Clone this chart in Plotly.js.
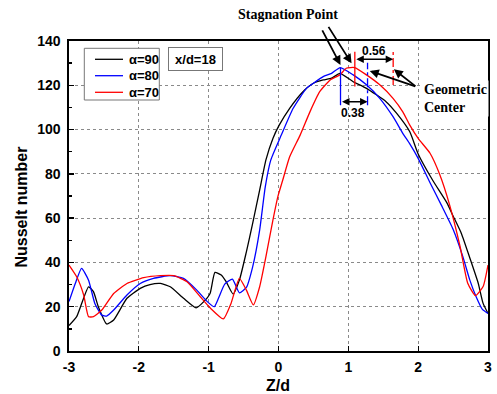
<!DOCTYPE html>
<html>
<head>
<meta charset="utf-8">
<script src="https://cdn.plot.ly/plotly-3.0.1.min.js"></script>
<style>html,body{margin:0;padding:0;background:#fff;}#chart{width:497px;height:394px;}</style>
</head>
<body>
<div id="chart"></div>
<script>
// ---- data ----
const seriesNames = ["α=90", "α=80", "α=70"];
const seriesColors = ["#000000", "#0000ff", "#ff0000"];

const z90 = [-3, -2.89, -2.72, -2.65, -2.58, -2.46, -2.36, -2.17, -1.98, -1.84, -1.69, -1.55, -1.36, -1.18, -1.07, -0.98, -0.91, -0.82, -0.75, -0.65, -0.56, -0.46, -0.37, -0.27, -0.18, -0.08, 0.01, 0.16, 0.35, 0.50, 0.64, 0.76, 0.88, 1.07, 1.26, 1.54, 1.69, 1.88, 2.0, 2.21, 2.41, 2.5, 2.62, 2.74, 2.86, 2.93, 3.0];
const nu90 = [11.5, 15.5, 29, 26.8, 20, 12.2, 14, 23.8, 28.3, 30, 30.5, 29, 23.8, 19.5, 22.3, 26, 35.5, 34.3, 31.3, 25.7, 32, 44.8, 57.6, 72.7, 86.3, 96, 102, 109.6, 117.1, 120.9, 122.4, 123.2, 125.4, 121.6, 118.6, 112.6, 107.4, 99, 89, 77, 67, 61, 53, 42, 30.6, 21.5, 17];

const z80 = [-3, -2.91, -2.82, -2.72, -2.63, -2.53, -2.46, -2.36, -2.17, -1.98, -1.79, -1.55, -1.36, -1.17, -1.02, -0.92, -0.86, -0.77, -0.66, -0.56, -0.46, -0.37, -0.27, -0.19, -0.11, 0.04, 0.21, 0.40, 0.50, 0.64, 0.76, 0.885, 1.07, 1.26, 1.45, 1.64, 1.78, 1.88, 2.0, 2.17, 2.33, 2.5, 2.64, 2.74, 2.83, 2.92, 3.0];
const nu80 = [22.3, 30.5, 37.3, 32, 21.5, 16.2, 15.8, 18.5, 25.3, 30.5, 32.8, 34, 32.8, 27.5, 22.3, 20, 23.8, 30.2, 32.5, 26.3, 28.7, 38, 54.6, 74, 86.3, 97.5, 109.6, 118.6, 120.9, 123.9, 125.4, 128, 124.7, 120.2, 114.1, 105.8, 98.3, 93.5, 87, 76, 66, 55, 42.6, 32, 24.5, 18.8, 17];

const z70 = [-3, -2.89, -2.79, -2.72, -2.65, -2.53, -2.36, -2.17, -1.93, -1.69, -1.50, -1.31, -1.12, -0.98, -0.79, -0.68, -0.56, -0.46, -0.36, -0.27, -0.18, -0.08, -0.01, 0.06, 0.16, 0.31, 0.45, 0.59, 0.74, 0.88, 0.97, 1.09, 1.26, 1.45, 1.64, 1.78, 1.88, 2.0, 2.17, 2.31, 2.45, 2.6, 2.71, 2.82, 2.93, 3.0];
const nu70 = [38.8, 33.5, 25.3, 15.5, 15.5, 18.5, 26, 30.5, 33.1, 34, 34, 31.3, 24.5, 19.5, 14.5, 21.5, 32.8, 27.5, 20.8, 29, 42.6, 59.1, 69.6, 77.1, 87.7, 97.5, 108, 117.1, 122.4, 124.7, 127.7, 128, 124.7, 120.2, 114.1, 108, 102, 96, 89.3, 79.6, 66, 47.2, 30.6, 25, 29.1, 38.8];

const xTicks = [-3, -2, -1, 0, 1, 2, 3];
const yTicks = [0, 20, 40, 60, 80, 100, 120, 140];

// stagnation points and geometric centres (Z/d)
const stagnation80 = 0.888, stagnation70 = 1.093;
const geometric80 = 1.275, geometric70 = 1.642;
const shift80Label = "0.38", shift70Label = "0.56";
const caseLabel = "x/d=18";

// ---- geometry helpers (pixel -> paper) ----
const PL = 69, PT = 41, PW = 419, PH = 310;
const px = v => (v - PL) / PW;
const py = v => 1 - (v - PT) / PH;

// ---- traces ----
const zs = [z90, z80, z70], nus = [nu90, nu80, nu70];
const traces = zs.map((z, i) => ({
  x: z, y: nus[i], type: "scatter", mode: "lines", name: seriesNames[i], showlegend: false,
  line: {color: seriesColors[i], width: 1.3, shape: "spline", smoothing: 0.5}
}));

const bold = (s, c, f) => ({family: f || "Liberation Sans, Arial, sans-serif", size: s, color: c || "#000", weight: "bold"});
const serif = "Liberation Serif, Times New Roman, serif";

const shapes = [
  // stagnation point markers
  {type: "line", xref: "x", yref: "y", x0: stagnation80, x1: stagnation80, y0: 111, y1: 128, line: {color: "#0000ff", width: 1.3}},
  {type: "line", xref: "x", yref: "y", x0: stagnation70, x1: stagnation70, y0: 119.4, y1: 135.2, line: {color: "#ff0000", width: 1.3}},
  // geometric centre markers
  {type: "line", xref: "x", yref: "y", x0: geometric80, x1: geometric80, y0: 111, y1: 130.2, line: {color: "#0000ff", width: 1.3, dash: "dashdot"}},
  {type: "line", xref: "x", yref: "y", x0: geometric70, x1: geometric70, y0: 120.1, y1: 135.2, line: {color: "#ff0000", width: 1.3, dash: "dashdot"}},
  // legend box
  {type: "rect", xref: "paper", yref: "paper", x0: px(84.3), x1: px(159.3), y0: py(100), y1: py(48.3), line: {color: "#777", width: 1}, fillcolor: "#fff", layer: "above"}
];

const legendY = [59.3, 75.7, 92.3];
seriesNames.forEach((n, i) => {
  shapes.push({type: "line", xref: "paper", yref: "paper", x0: px(95), x1: px(123), y0: py(legendY[i]), y1: py(legendY[i]),
               line: {color: seriesColors[i], width: 1.3}, layer: "above"});
});

const annotations = [
  // double arrows for the shifts
  {xref: "x", yref: "y", x: geometric80, y: 112.6, ax: stagnation80, ay: 112.6, axref: "x", ayref: "y", showarrow: true, arrowhead: 2, arrowside: "end+start", arrowsize: 1, arrowwidth: 1.5, arrowcolor: "#000", text: ""},
  {xref: "x", yref: "y", x: geometric70, y: 131.8, ax: stagnation70, ay: 131.8, axref: "x", ayref: "y", showarrow: true, arrowhead: 2, arrowside: "end+start", arrowsize: 1, arrowwidth: 1.5, arrowcolor: "#000", text: ""},
  {xref: "x", yref: "y", x: (stagnation80 + geometric80) / 2 - 0.02, y: 107.5, text: shift80Label, showarrow: false, font: bold(12)},
  {xref: "x", yref: "y", x: (stagnation70 + geometric70) / 2 - 0.005, y: 135.6, text: shift70Label, showarrow: false, font: bold(12)},
  // stagnation point arrows
  {xref: "x", yref: "y", x: stagnation80, y: 129.2, ax: -19, ay: -36, showarrow: true, arrowhead: 2, arrowsize: 1, arrowwidth: 1.8, arrowcolor: "#000", text: ""},
  {xref: "x", yref: "y", x: 1.046, y: 129.9, ax: -24, ay: -38, showarrow: true, arrowhead: 2, arrowsize: 1, arrowwidth: 1.8, arrowcolor: "#000", text: ""},
  // geometric centre arrows
  {xref: "x", yref: "y", x: 1.307, y: 126.5, ax: 47, ay: 16, showarrow: true, arrowhead: 2, arrowsize: 1, arrowwidth: 1.8, arrowcolor: "#000", text: ""},
  {xref: "x", yref: "y", x: 1.652, y: 127.2, ax: 23, ay: 18, showarrow: true, arrowhead: 2, arrowsize: 1, arrowwidth: 1.8, arrowcolor: "#000", text: ""},
  // text labels
  {xref: "paper", yref: "paper", x: px(288), y: py(15), text: "Stagnation Point", showarrow: false, font: bold(14, "#000", serif), xanchor: "center", yanchor: "middle"},
  {xref: "paper", yref: "paper", x: px(422), y: py(98), text: "Geometric<br>Center", showarrow: false, align: "left", font: bold(14, "#000", serif), xanchor: "left", yanchor: "middle", bgcolor: "#fff"},
  // case label box
  {xref: "paper", yref: "paper", x: px(195), y: py(59.2), text: caseLabel, showarrow: false, font: bold(13), xanchor: "center", yanchor: "middle", bordercolor: "#777", borderwidth: 1, borderpad: 3, width: 47, height: 16, bgcolor: "#fff"},
  // axis titles
  {xref: "paper", yref: "paper", x: px(20.5), y: py(207), text: "Nusselt number", textangle: -90, showarrow: false, font: bold(16), xanchor: "center", yanchor: "middle"},
  {xref: "paper", yref: "paper", x: px(278), y: py(386), text: "Z/d", showarrow: false, font: bold(16), xanchor: "center", yanchor: "middle"}
];

// legend labels
seriesNames.forEach((n, i) => {
  annotations.push({xref: "paper", yref: "paper", x: px(127), y: py(legendY[i]), text: n, showarrow: false,
                    font: bold(13), xanchor: "left", yanchor: "middle"});
});

const layout = {
  width: 497, height: 394,
  margin: {l: PL, r: 497 - PL - PW, t: PT, b: 394 - PT - PH},
  paper_bgcolor: "#fff", plot_bgcolor: "#fff",
  showlegend: false,
  xaxis: {range: [-3, 3], tickvals: xTicks, ticktext: xTicks.map(String), ticks: "inside", ticklen: 5, tickwidth: 1.3, tickcolor: "#000",
          showline: true, linecolor: "#000", linewidth: 1.6, mirror: true, zeroline: false,
          showgrid: true, gridcolor: "#8a8a8a", griddash: "dot", gridwidth: 1, tickfont: bold(14), ticklabelstandoff: 3},
  yaxis: {range: [0, 140], tickvals: yTicks, ticktext: yTicks.map(String), ticks: "inside", ticklen: 5, tickwidth: 1.3, tickcolor: "#000",
          minor: {dtick: 10, tick0: 0, ticks: "inside", ticklen: 3, tickcolor: "#000", showgrid: false},
          showline: true, linecolor: "#000", linewidth: 1.6, mirror: true, zeroline: false,
          showgrid: true, gridcolor: "#8a8a8a", griddash: "dot", gridwidth: 1, tickfont: bold(14), ticklabelstandoff: 4},
  shapes: shapes,
  annotations: annotations
};

Plotly.newPlot("chart", traces, layout, {displayModeBar: false, staticPlot: true});
</script>
</body>
</html>
